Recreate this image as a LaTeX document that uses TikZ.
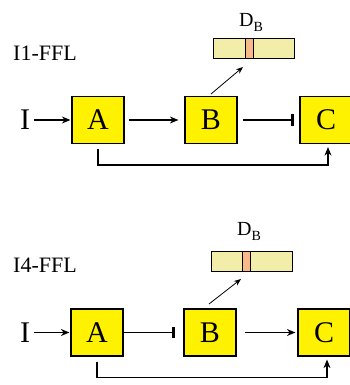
\documentclass[tikz,border=0pt]{standalone}
\usepackage{fontspec}
\setmainfont{Liberation Serif}
\usetikzlibrary{arrows.meta}
\definecolor{barfill}{HTML}{F3EDAA}
\definecolor{markfill}{HTML}{F8B88A}
\begin{document}
\begin{tikzpicture}[x=1pt,y=-1pt,
  box/.style={draw=black,line width=1.2pt,fill=yellow,minimum width=52pt,minimum height=47pt,inner sep=0pt,font=\fontsize{30}{30}\selectfont},
  act/.style={line width=1.3pt,-{Stealth[length=8.5pt,width=7pt]}},
  rep/.style={line width=1.3pt,-{Bar[width=11pt,line width=3pt]}},
  thinarrow/.style={line width=0.8pt,-{Stealth[length=7pt,width=5.5pt]}},
  lbl/.style={inner sep=0pt,font=\fontsize{22}{22}\selectfont},
  inp/.style={inner sep=0pt,font=\fontsize{30}{30}\selectfont},
  barbox/.style={draw=black,line width=1pt,fill=barfill,minimum width=81pt,minimum height=20pt,inner sep=0pt},
  markbox/.style={draw=black,line width=1pt,fill=markfill,minimum width=8pt,minimum height=20pt,inner sep=0pt},
  dlbl/.style={inner sep=0pt,font=\fontsize{20}{20}\selectfont}]
\useasboundingbox (0,0) rectangle (349,385);
\fill[white] (0,0) rectangle (349,385);

% ---------- top panel: I1-FFL ----------
\node[lbl] (t1) at (45,53) {I1-FFL};
\node[dlbl] (db1) at (251,22) {D\raisebox{-5pt}{\fontsize{14}{14}\selectfont B}};
\node[barbox] (bar1) at (253.5,49) {};
\node[markbox] (mk1) at (249,49) {};
\node[inp] (i1) at (25,120) {I};
\node[box] (a1) at (98,120) {A};
\node[box] (b1) at (211,120) {B};
\node[box] (c1) at (326,120) {C};
\coordinate (s1) at (211,94);
\coordinate (e1) at (243,67);
\draw[act] ([xshift=4pt]i1.east) -- ([xshift=-1pt]a1.west);
\draw[act] ([xshift=4pt]a1.east) -- ([xshift=-6pt]b1.west);
\draw[rep] ([xshift=5pt]b1.east) -- ([xshift=-5pt]c1.west);
\draw[thinarrow] (s1) -- (e1);
\draw[act] ([yshift=-5pt]a1.south) -- ++(0,16) -| ([xshift=2pt,yshift=-3pt]c1.south);

% ---------- bottom panel: I4-FFL ----------
\node[lbl] (t4) at (45,265) {I4-FFL};
\node[dlbl] (db4) at (249,231) {D\raisebox{-5pt}{\fontsize{14}{14}\selectfont B}};
\node[barbox] (bar4) at (251.5,261.5) {};
\node[markbox] (mk4) at (246.5,261.5) {};
\node[inp] (i4) at (25,332.5) {I};
\node[box] (a4) at (97,332.5) {A};
\node[box] (b4) at (210,332.5) {B};
\node[box] (c4) at (324,332.5) {C};
\coordinate (s4) at (209,304);
\coordinate (e4) at (241,279);
\draw[act] ([xshift=4pt]i4.east) -- ([xshift=-1pt]a4.west);
\draw[rep] (a4.east) -- ([xshift=-8pt]b4.west);
\draw[act] ([xshift=8pt]b4.east) -- ([xshift=-2pt]c4.west);
\draw[thinarrow] (s4) -- (e4);
\draw[act] ([yshift=-5pt]a4.south) -- ++(0,16) -| ([xshift=3pt,yshift=-3pt]c4.south);
\end{tikzpicture}
\end{document}
